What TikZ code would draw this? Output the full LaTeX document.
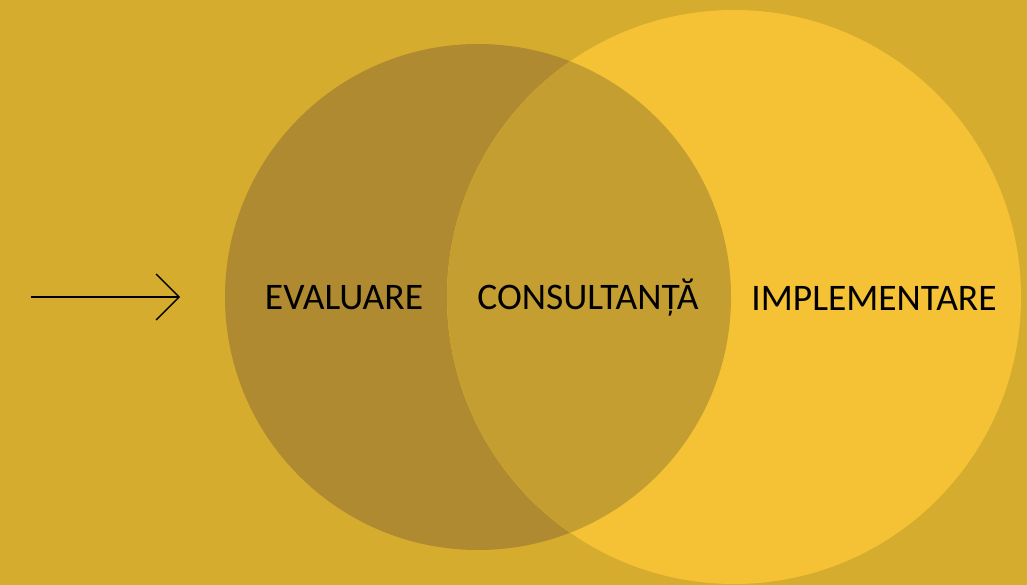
\documentclass[tikz,border=0pt]{standalone}
\usepackage{fontspec}
\setmainfont{Carlito}
\usetikzlibrary{arrows.meta}
\definecolor{bgcol}{HTML}{D6AC2E}
\definecolor{leftcol}{HTML}{B08A30}
\definecolor{rightcol}{HTML}{F4C234}
\definecolor{midcol}{HTML}{C49E30}
\tikzset{
  lbl/.style={font=\fontsize{37.5}{42}\selectfont, text=black, inner sep=0pt, anchor=center},
  arr/.style={draw=black, line width=1.3pt, -{Straight Barb[length=23pt,width=46pt,line width=1.3pt]}}
}
\begin{document}
\begin{tikzpicture}[x=1pt,y=-1pt]
\fill[bgcol] (0,0) rectangle (1027,585);
\useasboundingbox (0,0) rectangle (1027,585);
\fill[leftcol] (478,297) circle (253);
\fill[rightcol] (734,297) circle (287);
\begin{scope}
  \clip (478,297) circle (253);
  \fill[midcol] (734,297) circle (287);
\end{scope}
\node[lbl] (eval) at (344,298) {EVALUARE};
\node[lbl] (cons) at (588,298) {CONSULTANȚĂ};
\node[lbl] (impl) at (874,298) {IMPLEMENTARE};
\coordinate (a0) at (31,297);
\coordinate (a1) at (180,297);
\draw[arr] (a0) -- (a1);
\end{tikzpicture}
\end{document}
